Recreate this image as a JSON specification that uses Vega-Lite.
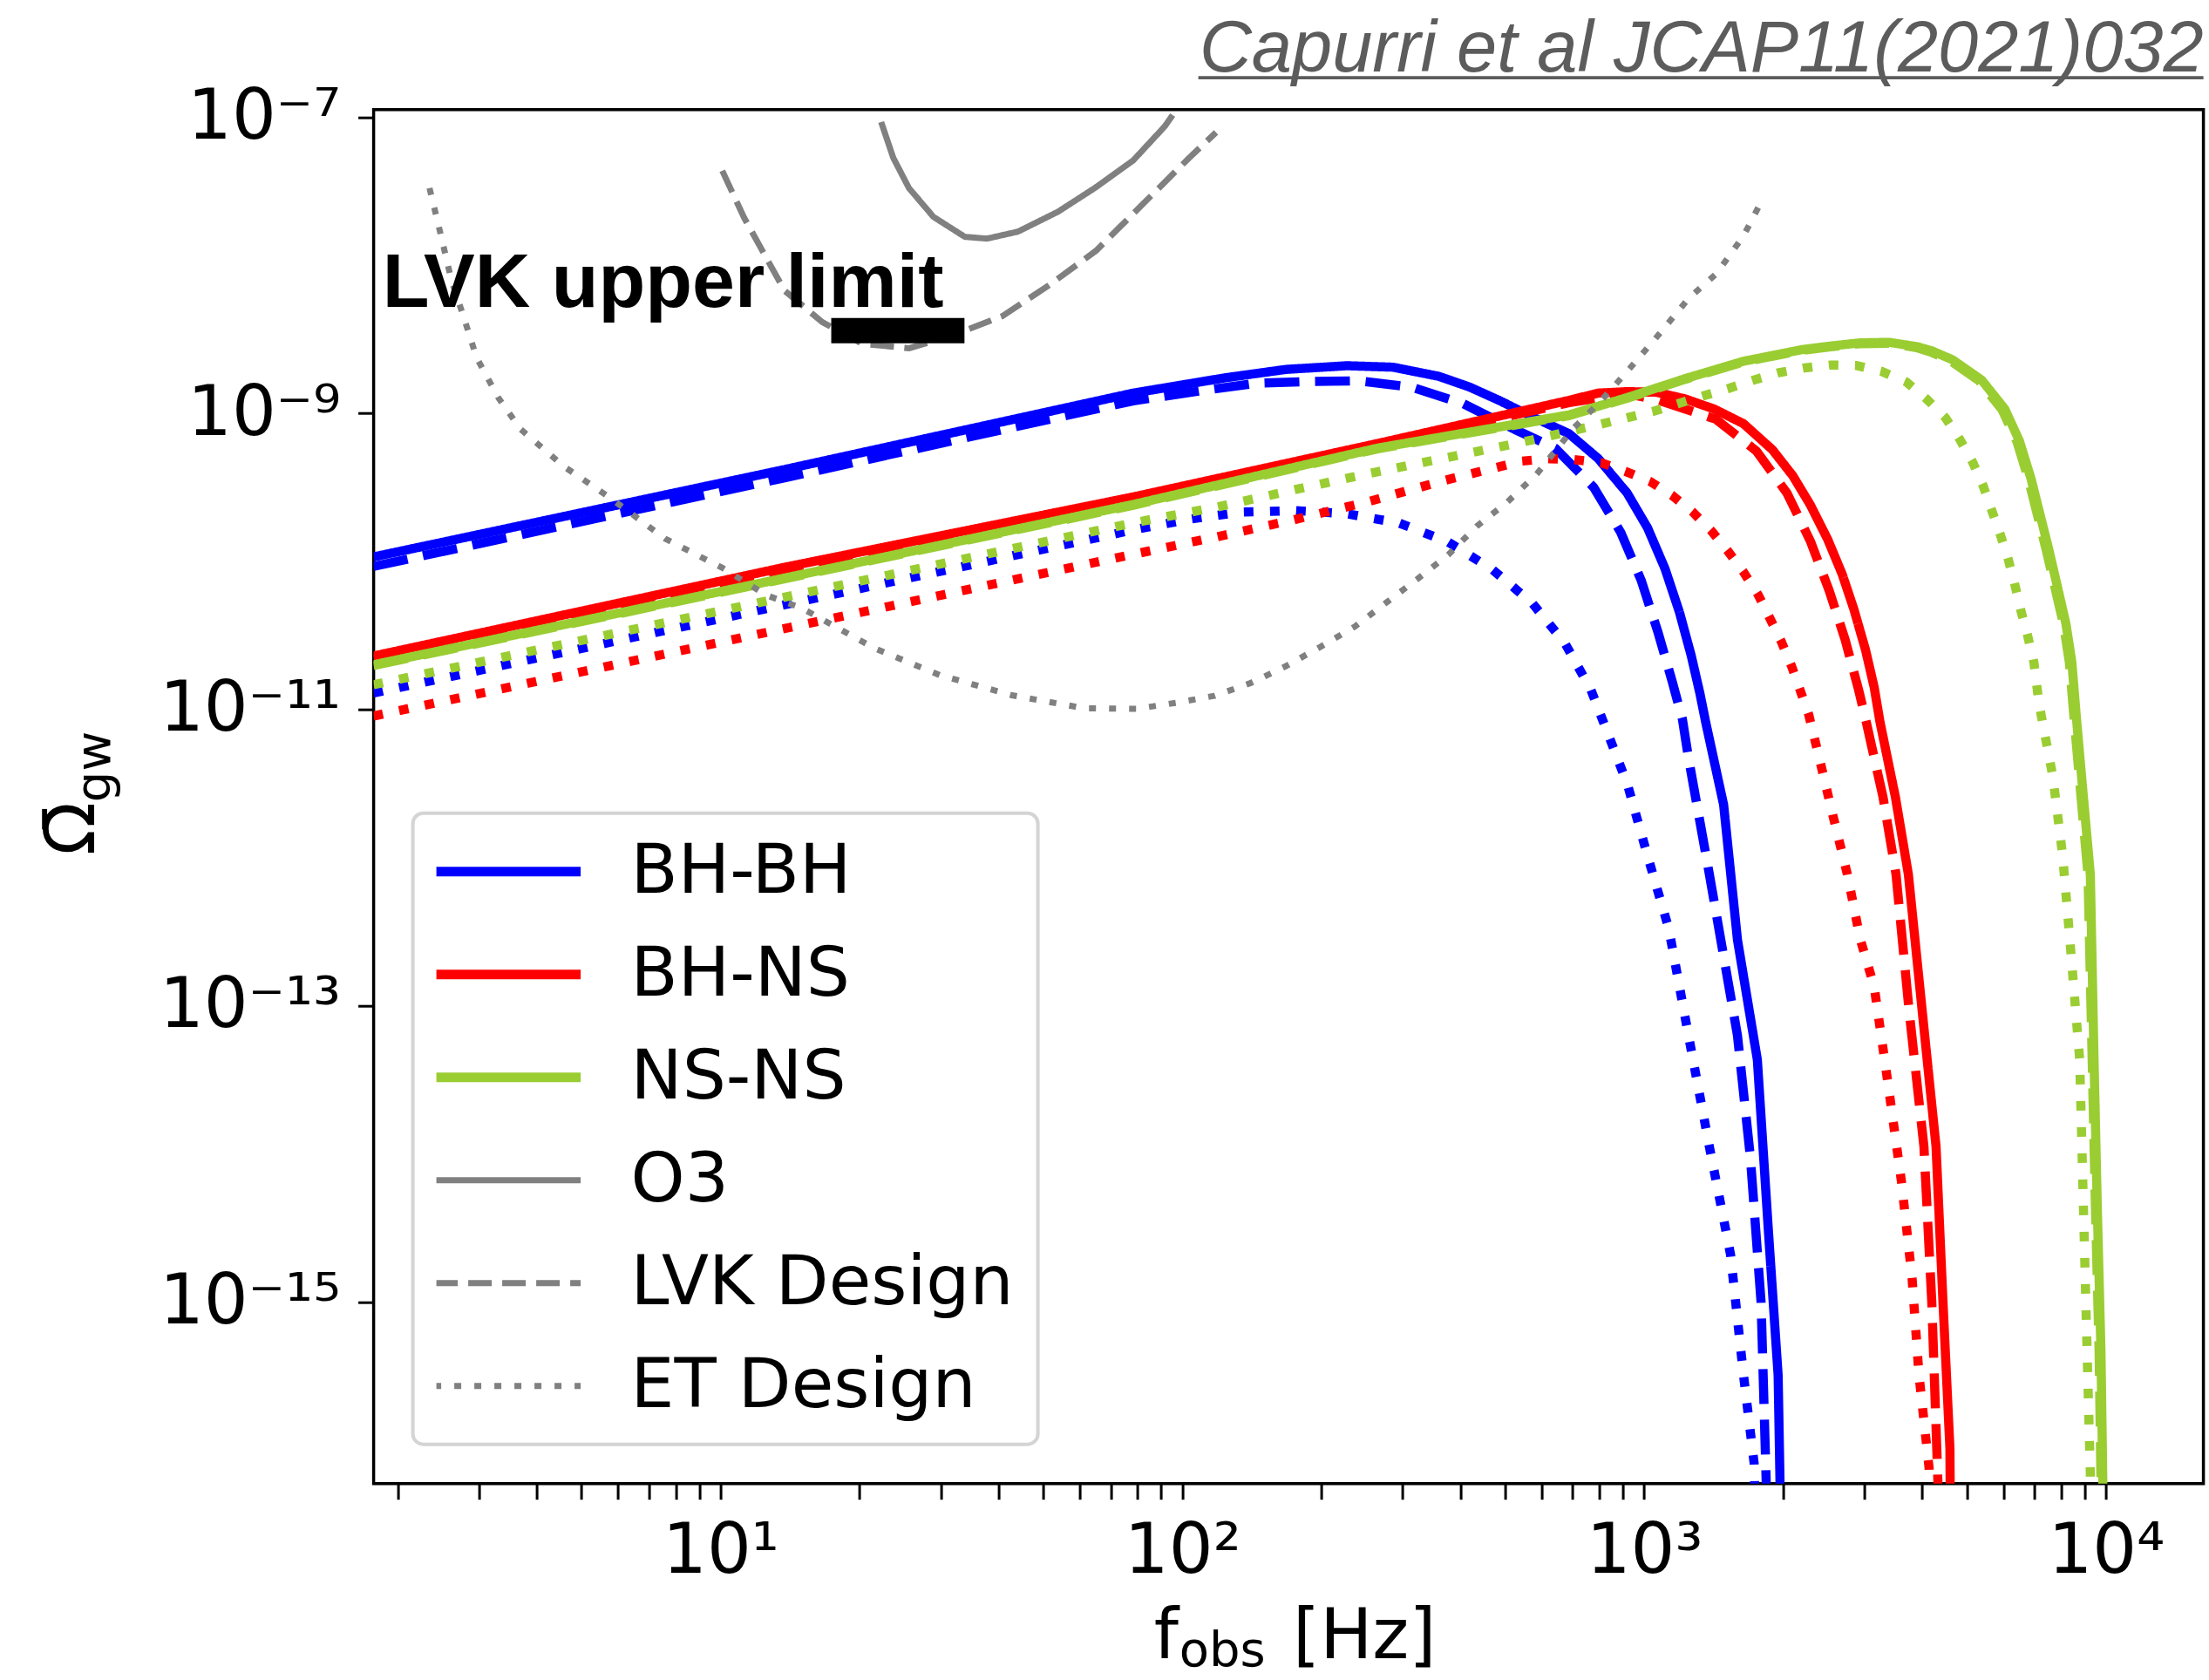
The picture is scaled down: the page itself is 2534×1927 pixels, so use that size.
{
  "$schema": "https://vega.github.io/schema/vega-lite/v6.json",
  "width": 2099,
  "height": 1576,
  "autosize": {"type": "none"},
  "padding": {"left": 428.6, "top": 125.7, "right": 6.3, "bottom": 225.4},
  "background": "white",
  "config": {
    "view": {"stroke": "black", "strokeWidth": 3.5},
    "font": "DejaVu Sans",
    "legend": {"strokeWidth": 4}
  },
  "datasets": {
    "curves": [
      {"label":"BH-BH","style":"solid","f":1.773,"omega":1.074e-10},
      {"label":"BH-BH","style":"solid","f":13.76,"omega":4.178e-10},
      {"label":"BH-BH","style":"solid","f":78.25,"omega":1.371e-9},
      {"label":"BH-BH","style":"solid","f":123.6,"omega":1.738e-9},
      {"label":"BH-BH","style":"solid","f":167.7,"omega":1.982e-9},
      {"label":"BH-BH","style":"solid","f":227.5,"omega":2.099e-9},
      {"label":"BH-BH","style":"solid","f":285.9,"omega":2.051e-9},
      {"label":"BH-BH","style":"solid","f":359.5,"omega":1.778e-9},
      {"label":"BH-BH","style":"solid","f":418.6,"omega":1.507e-9},
      {"label":"BH-BH","style":"solid","f":487.5,"omega":1.216e-9},
      {"label":"BH-BH","style":"solid","f":567.9,"omega":9.594e-10},
      {"label":"BH-BH","style":"solid","f":687.5,"omega":7.295e-10},
      {"label":"BH-BH","style":"solid","f":794.7,"omega":4.966e-10},
      {"label":"BH-BH","style":"solid","f":918.8,"omega":2.897e-10},
      {"label":"BH-BH","style":"solid","f":1017,"omega":1.687e-10},
      {"label":"BH-BH","style":"solid","f":1109,"omega":8.974e-11},
      {"label":"BH-BH","style":"solid","f":1192,"omega":4.560e-11},
      {"label":"BH-BH","style":"solid","f":1264,"omega":2.323e-11},
      {"label":"BH-BH","style":"solid","f":1320,"omega":1.291e-11},
      {"label":"BH-BH","style":"solid","f":1359,"omega":8.222e-12},
      {"label":"BH-BH","style":"solid","f":1486,"omega":2.280e-12},
      {"label":"BH-BH","style":"solid","f":1592,"omega":2.799e-13},
      {"label":"BH-BH","style":"solid","f":1758,"omega":4.335e-14},
      {"label":"BH-BH","style":"solid","f":1854,"omega":3.319e-15},
      {"label":"BH-BH","style":"solid","f":1950,"omega":3.206e-16},
      {"label":"BH-BH","style":"solid","f":1968,"omega":6.237e-17},
      {"label":"BH-BH","style":"solid","f":1972,"omega":1e-17},

      {"label":"BH-BH","style":"dashed","f":1.773,"omega":9.268e-11},
      {"label":"BH-BH","style":"dashed","f":13.76,"omega":3.673e-10},
      {"label":"BH-BH","style":"dashed","f":78.25,"omega":1.216e-9},
      {"label":"BH-BH","style":"dashed","f":111.1,"omega":1.429e-9},
      {"label":"BH-BH","style":"dashed","f":144.0,"omega":1.596e-9},
      {"label":"BH-BH","style":"dashed","f":186.6,"omega":1.641e-9},
      {"label":"BH-BH","style":"dashed","f":241.8,"omega":1.656e-9},
      {"label":"BH-BH","style":"dashed","f":313.4,"omega":1.507e-9},
      {"label":"BH-BH","style":"dashed","f":406.2,"omega":1.161e-9},
      {"label":"BH-BH","style":"dashed","f":526.0,"omega":7.762e-10},
      {"label":"BH-BH","style":"dashed","f":641.4,"omega":5.834e-10},
      {"label":"BH-BH","style":"dashed","f":777.5,"omega":3.170e-10},
      {"label":"BH-BH","style":"dashed","f":889.6,"omega":1.574e-10},
      {"label":"BH-BH","style":"dashed","f":984.9,"omega":7.482e-11},
      {"label":"BH-BH","style":"dashed","f":1070,"omega":3.373e-11},
      {"label":"BH-BH","style":"dashed","f":1150,"omega":1.549e-11},
      {"label":"BH-BH","style":"dashed","f":1210,"omega":8.610e-12},
      {"label":"BH-BH","style":"dashed","f":1247,"omega":4.732e-12},
      {"label":"BH-BH","style":"dashed","f":1384,"omega":7.727e-13},
      {"label":"BH-BH","style":"dashed","f":1592,"omega":6.324e-14},
      {"label":"BH-BH","style":"dashed","f":1698,"omega":9.528e-15},
      {"label":"BH-BH","style":"dashed","f":1791,"omega":9.977e-16},
      {"label":"BH-BH","style":"dashed","f":1837,"omega":6.237e-17},
      {"label":"BH-BH","style":"dashed","f":1841,"omega":1e-17},

      {"label":"BH-BH","style":"dotted","f":1.773,"omega":1.294e-11},
      {"label":"BH-BH","style":"dotted","f":80.07,"omega":1.660e-10},
      {"label":"BH-BH","style":"dotted","f":103.8,"omega":1.932e-10},
      {"label":"BH-BH","style":"dotted","f":134.5,"omega":2.158e-10},
      {"label":"BH-BH","style":"dotted","f":175.5,"omega":2.208e-10},
      {"label":"BH-BH","style":"dotted","f":226.5,"omega":2.104e-10},
      {"label":"BH-BH","style":"dotted","f":293.9,"omega":1.824e-10},
      {"label":"BH-BH","style":"dotted","f":376.4,"omega":1.355e-10},
      {"label":"BH-BH","style":"dotted","f":469.0,"omega":8.831e-11},
      {"label":"BH-BH","style":"dotted","f":572.0,"omega":5.248e-11},
      {"label":"BH-BH","style":"dotted","f":673.8,"omega":2.805e-11},
      {"label":"BH-BH","style":"dotted","f":766.8,"omega":1.361e-11},
      {"label":"BH-BH","style":"dotted","f":841.6,"omega":6.442e-12},
      {"label":"BH-BH","style":"dotted","f":920.4,"omega":3.112e-12},
      {"label":"BH-BH","style":"dotted","f":1016,"omega":1.040e-12},
      {"label":"BH-BH","style":"dotted","f":1130,"omega":3.342e-13},
      {"label":"BH-BH","style":"dotted","f":1247,"omega":6.324e-14},
      {"label":"BH-BH","style":"dotted","f":1384,"omega":1.122e-14},
      {"label":"BH-BH","style":"dotted","f":1538,"omega":2.099e-15},
      {"label":"BH-BH","style":"dotted","f":1641,"omega":3.206e-16},
      {"label":"BH-BH","style":"dotted","f":1730,"omega":8.166e-17},
      {"label":"BH-BH","style":"dotted","f":1758,"omega":1e-17},

      {"label":"BH-NS","style":"solid","f":1.773,"omega":2.301e-11},
      {"label":"BH-NS","style":"solid","f":13.76,"omega":9.141e-11},
      {"label":"BH-NS","style":"solid","f":78.25,"omega":2.729e-10},
      {"label":"BH-NS","style":"solid","f":264.8,"omega":6.266e-10},
      {"label":"BH-NS","style":"solid","f":687.5,"omega":1.225e-9},
      {"label":"BH-NS","style":"solid","f":794.7,"omega":1.371e-9},
      {"label":"BH-NS","style":"solid","f":918.8,"omega":1.403e-9},
      {"label":"BH-NS","style":"solid","f":1062,"omega":1.390e-9},
      {"label":"BH-NS","style":"solid","f":1227,"omega":1.253e-9},
      {"label":"BH-NS","style":"solid","f":1419,"omega":1.069e-9},
      {"label":"BH-NS","style":"solid","f":1640,"omega":8.531e-10},
      {"label":"BH-NS","style":"solid","f":1895,"omega":5.689e-10},
      {"label":"BH-NS","style":"solid","f":2098,"omega":3.793e-10},
      {"label":"BH-NS","style":"solid","f":2289,"omega":2.415e-10},
      {"label":"BH-NS","style":"solid","f":2497,"omega":1.409e-10},
      {"label":"BH-NS","style":"solid","f":2684,"omega":8.204e-11},
      {"label":"BH-NS","style":"solid","f":2844,"omega":4.775e-11},
      {"label":"BH-NS","style":"solid","f":3014,"omega":2.541e-11},
      {"label":"BH-NS","style":"solid","f":3148,"omega":1.413e-11},
      {"label":"BH-NS","style":"solid","f":3241,"omega":8.222e-12},
      {"label":"BH-NS","style":"solid","f":3499,"omega":2.570e-12},
      {"label":"BH-NS","style":"solid","f":3733,"omega":7.727e-13},
      {"label":"BH-NS","style":"solid","f":3999,"omega":9.247e-14},
      {"label":"BH-NS","style":"solid","f":4285,"omega":1.122e-14},
      {"label":"BH-NS","style":"solid","f":4436,"omega":9.977e-16},
      {"label":"BH-NS","style":"solid","f":4592,"omega":1.028e-16},
      {"label":"BH-NS","style":"solid","f":4613,"omega":1e-17},

      {"label":"BH-NS","style":"dashed","f":1.773,"omega":2.213e-11},
      {"label":"BH-NS","style":"dashed","f":78.25,"omega":2.630e-10},
      {"label":"BH-NS","style":"dashed","f":264.8,"omega":6.053e-10},
      {"label":"BH-NS","style":"dashed","f":687.5,"omega":1.183e-9},
      {"label":"BH-NS","style":"dashed","f":918.8,"omega":1.358e-9},
      {"label":"BH-NS","style":"dashed","f":1077,"omega":1.225e-9},
      {"label":"BH-NS","style":"dashed","f":1429,"omega":9.141e-10},
      {"label":"BH-NS","style":"dashed","f":1750,"omega":5.572e-10},
      {"label":"BH-NS","style":"dashed","f":2038,"omega":2.897e-10},
      {"label":"BH-NS","style":"dashed","f":2289,"omega":1.377e-10},
      {"label":"BH-NS","style":"dashed","f":2514,"omega":6.397e-11},
      {"label":"BH-NS","style":"dashed","f":2723,"omega":2.972e-11},
      {"label":"BH-NS","style":"dashed","f":2914,"omega":1.352e-11},
      {"label":"BH-NS","style":"dashed","f":3027,"omega":8.222e-12},
      {"label":"BH-NS","style":"dashed","f":3289,"omega":2.570e-12},
      {"label":"BH-NS","style":"dashed","f":3510,"omega":7.727e-13},
      {"label":"BH-NS","style":"dashed","f":3747,"omega":9.247e-14},
      {"label":"BH-NS","style":"dashed","f":4034,"omega":1.122e-14},
      {"label":"BH-NS","style":"dashed","f":4195,"omega":9.977e-16},
      {"label":"BH-NS","style":"dashed","f":4324,"omega":6.237e-17},
      {"label":"BH-NS","style":"dashed","f":4335,"omega":1e-17},

      {"label":"BH-NS","style":"dotted","f":1.773,"omega":9.057e-12},
      {"label":"BH-NS","style":"dotted","f":80.07,"omega":1.135e-10},
      {"label":"BH-NS","style":"dotted","f":117.7,"omega":1.459e-10},
      {"label":"BH-NS","style":"dotted","f":173.4,"omega":1.905e-10},
      {"label":"BH-NS","style":"dotted","f":253.9,"omega":2.547e-10},
      {"label":"BH-NS","style":"dotted","f":371.7,"omega":3.548e-10},
      {"label":"BH-NS","style":"dotted","f":544.0,"omega":4.764e-10},
      {"label":"BH-NS","style":"dotted","f":619.4,"omega":4.943e-10},
      {"label":"BH-NS","style":"dotted","f":703.0,"omega":4.875e-10},
      {"label":"BH-NS","style":"dotted","f":806.8,"omega":4.645e-10},
      {"label":"BH-NS","style":"dotted","f":912.0,"omega":4.055e-10},
      {"label":"BH-NS","style":"dotted","f":1031,"omega":3.467e-10},
      {"label":"BH-NS","style":"dotted","f":1150,"omega":2.793e-10},
      {"label":"BH-NS","style":"dotted","f":1273,"omega":2.163e-10},
      {"label":"BH-NS","style":"dotted","f":1398,"omega":1.611e-10},
      {"label":"BH-NS","style":"dotted","f":1515,"omega":1.186e-10},
      {"label":"BH-NS","style":"dotted","f":1640,"omega":8.511e-11},
      {"label":"BH-NS","style":"dotted","f":1764,"omega":5.984e-11},
      {"label":"BH-NS","style":"dotted","f":1869,"omega":4.169e-11},
      {"label":"BH-NS","style":"dotted","f":1979,"omega":2.904e-11},
      {"label":"BH-NS","style":"dotted","f":2083,"omega":1.982e-11},
      {"label":"BH-NS","style":"dotted","f":2176,"omega":1.352e-11},
      {"label":"BH-NS","style":"dotted","f":2272,"omega":9.204e-12},
      {"label":"BH-NS","style":"dotted","f":2393,"omega":4.732e-12},
      {"label":"BH-NS","style":"dotted","f":2564,"omega":1.910e-12},
      {"label":"BH-NS","style":"dotted","f":2754,"omega":7.727e-13},
      {"label":"BH-NS","style":"dotted","f":2938,"omega":2.799e-13},
      {"label":"BH-NS","style":"dotted","f":3148,"omega":1.349e-13},
      {"label":"BH-NS","style":"dotted","f":3373,"omega":2.972e-14},
      {"label":"BH-NS","style":"dotted","f":3606,"omega":6.531e-15},
      {"label":"BH-NS","style":"dotted","f":3802,"omega":1.455e-15},
      {"label":"BH-NS","style":"dotted","f":3936,"omega":3.206e-16},
      {"label":"BH-NS","style":"dotted","f":4140,"omega":7.534e-17},
      {"label":"BH-NS","style":"dotted","f":4169,"omega":1e-17},

      {"label":"NS-NS","style":"solid","f":1.773,"omega":2.009e-11},
      {"label":"NS-NS","style":"solid","f":78.25,"omega":2.427e-10},
      {"label":"NS-NS","style":"solid","f":264.8,"omega":5.834e-10},
      {"label":"NS-NS","style":"solid","f":687.5,"omega":9.772e-10},
      {"label":"NS-NS","style":"solid","f":918.8,"omega":1.279e-9},
      {"label":"NS-NS","style":"solid","f":1227,"omega":1.718e-9},
      {"label":"NS-NS","style":"solid","f":1640,"omega":2.249e-9},
      {"label":"NS-NS","style":"solid","f":2191,"omega":2.692e-9},
      {"label":"NS-NS","style":"solid","f":2533,"omega":2.851e-9},
      {"label":"NS-NS","style":"solid","f":2927,"omega":2.992e-9},
      {"label":"NS-NS","style":"solid","f":3388,"omega":3.020e-9},
      {"label":"NS-NS","style":"solid","f":3911,"omega":2.818e-9},
      {"label":"NS-NS","style":"solid","f":4206,"omega":2.636e-9},
      {"label":"NS-NS","style":"solid","f":4654,"omega":2.301e-9},
      {"label":"NS-NS","style":"solid","f":5380,"omega":1.679e-9},
      {"label":"NS-NS","style":"solid","f":6039,"omega":1.069e-9},
      {"label":"NS-NS","style":"solid","f":6494,"omega":6.516e-10},
      {"label":"NS-NS","style":"solid","f":6880,"omega":3.631e-10},
      {"label":"NS-NS","style":"solid","f":7186,"omega":2.113e-10},
      {"label":"NS-NS","style":"solid","f":7506,"omega":1.230e-10},
      {"label":"NS-NS","style":"solid","f":7840,"omega":6.855e-11},
      {"label":"NS-NS","style":"solid","f":8186,"omega":3.811e-11},
      {"label":"NS-NS","style":"solid","f":8430,"omega":2.118e-11},
      {"label":"NS-NS","style":"solid","f":8630,"omega":8.690e-12},
      {"label":"NS-NS","style":"solid","f":8933,"omega":2.570e-12},
      {"label":"NS-NS","style":"solid","f":9247,"omega":7.727e-13},
      {"label":"NS-NS","style":"solid","f":9419,"omega":4.335e-14},
      {"label":"NS-NS","style":"solid","f":9572,"omega":4.477e-15},
      {"label":"NS-NS","style":"solid","f":9750,"omega":4.677e-16},
      {"label":"NS-NS","style":"solid","f":9840,"omega":6.237e-17},
      {"label":"NS-NS","style":"solid","f":9863,"omega":1e-17},

      {"label":"NS-NS","style":"dashed","f":1.773,"omega":1.986e-11},
      {"label":"NS-NS","style":"dashed","f":78.25,"omega":2.399e-10},
      {"label":"NS-NS","style":"dashed","f":264.8,"omega":5.768e-10},
      {"label":"NS-NS","style":"dashed","f":687.5,"omega":9.661e-10},
      {"label":"NS-NS","style":"dashed","f":918.8,"omega":1.265e-9},
      {"label":"NS-NS","style":"dashed","f":1227,"omega":1.698e-9},
      {"label":"NS-NS","style":"dashed","f":1640,"omega":2.223e-9},
      {"label":"NS-NS","style":"dashed","f":2191,"omega":2.661e-9},
      {"label":"NS-NS","style":"dashed","f":2533,"omega":2.818e-9},
      {"label":"NS-NS","style":"dashed","f":2927,"omega":2.958e-9},
      {"label":"NS-NS","style":"dashed","f":3388,"omega":2.979e-9},
      {"label":"NS-NS","style":"dashed","f":3890,"omega":2.780e-9},
      {"label":"NS-NS","style":"dashed","f":4169,"omega":2.600e-9},
      {"label":"NS-NS","style":"dashed","f":4603,"omega":2.265e-9},
      {"label":"NS-NS","style":"dashed","f":5309,"omega":1.660e-9},
      {"label":"NS-NS","style":"dashed","f":5957,"omega":1.059e-9},
      {"label":"NS-NS","style":"dashed","f":6412,"omega":6.457e-10},
      {"label":"NS-NS","style":"dashed","f":6792,"omega":3.589e-10},
      {"label":"NS-NS","style":"dashed","f":7096,"omega":2.089e-10},
      {"label":"NS-NS","style":"dashed","f":7413,"omega":1.216e-10},
      {"label":"NS-NS","style":"dashed","f":7745,"omega":6.761e-11},
      {"label":"NS-NS","style":"dashed","f":8091,"omega":3.758e-11},
      {"label":"NS-NS","style":"dashed","f":8329,"omega":2.089e-11},
      {"label":"NS-NS","style":"dashed","f":8531,"omega":8.610e-12},
      {"label":"NS-NS","style":"dashed","f":8831,"omega":2.541e-12},
      {"label":"NS-NS","style":"dashed","f":9141,"omega":7.674e-13},
      {"label":"NS-NS","style":"dashed","f":9333,"omega":4.315e-14},
      {"label":"NS-NS","style":"dashed","f":9484,"omega":4.467e-15},
      {"label":"NS-NS","style":"dashed","f":9661,"omega":4.677e-16},
      {"label":"NS-NS","style":"dashed","f":9750,"omega":6.237e-17},
      {"label":"NS-NS","style":"dashed","f":9772,"omega":1e-17},

      {"label":"NS-NS","style":"dotted","f":1.773,"omega":1.472e-11},
      {"label":"NS-NS","style":"dotted","f":80.07,"omega":1.849e-10},
      {"label":"NS-NS","style":"dotted","f":117.7,"omega":2.317e-10},
      {"label":"NS-NS","style":"dotted","f":173.4,"omega":3.034e-10},
      {"label":"NS-NS","style":"dotted","f":253.9,"omega":3.936e-10},
      {"label":"NS-NS","style":"dotted","f":371.7,"omega":5.012e-10},
      {"label":"NS-NS","style":"dotted","f":546.4,"omega":6.412e-10},
      {"label":"NS-NS","style":"dotted","f":800.0,"omega":8.414e-10},
      {"label":"NS-NS","style":"dotted","f":918.8,"omega":9.354e-10},
      {"label":"NS-NS","style":"dotted","f":1047,"omega":1.033e-9},
      {"label":"NS-NS","style":"dotted","f":1192,"omega":1.172e-9},
      {"label":"NS-NS","style":"dotted","f":1338,"omega":1.309e-9},
      {"label":"NS-NS","style":"dotted","f":1515,"omega":1.466e-9},
      {"label":"NS-NS","style":"dotted","f":1726,"omega":1.679e-9},
      {"label":"NS-NS","style":"dotted","f":1951,"omega":1.879e-9},
      {"label":"NS-NS","style":"dotted","f":2223,"omega":2.028e-9},
      {"label":"NS-NS","style":"dotted","f":2533,"omega":2.123e-9},
      {"label":"NS-NS","style":"dotted","f":2885,"omega":2.104e-9},
      {"label":"NS-NS","style":"dotted","f":3263,"omega":1.923e-9},
      {"label":"NS-NS","style":"dotted","f":3692,"omega":1.633e-9},
      {"label":"NS-NS","style":"dotted","f":4085,"omega":1.253e-9},
      {"label":"NS-NS","style":"dotted","f":4490,"omega":9.354e-10},
      {"label":"NS-NS","style":"dotted","f":4825,"omega":6.668e-10},
      {"label":"NS-NS","style":"dotted","f":5150,"omega":4.645e-10},
      {"label":"NS-NS","style":"dotted","f":5419,"omega":3.243e-10},
      {"label":"NS-NS","style":"dotted","f":5659,"omega":2.208e-10},
      {"label":"NS-NS","style":"dotted","f":5909,"omega":1.507e-10},
      {"label":"NS-NS","style":"dotted","f":6145,"omega":1.028e-10},
      {"label":"NS-NS","style":"dotted","f":6356,"omega":6.855e-11},
      {"label":"NS-NS","style":"dotted","f":6540,"omega":4.667e-11},
      {"label":"NS-NS","style":"dotted","f":6761,"omega":3.184e-11},
      {"label":"NS-NS","style":"dotted","f":6982,"omega":2.070e-11},
      {"label":"NS-NS","style":"dotted","f":7161,"omega":1.094e-11},
      {"label":"NS-NS","style":"dotted","f":7674,"omega":3.508e-12},
      {"label":"NS-NS","style":"dotted","f":8054,"omega":1.040e-12},
      {"label":"NS-NS","style":"dotted","f":8337,"omega":2.958e-13},
      {"label":"NS-NS","style":"dotted","f":8770,"omega":4.335e-14},
      {"label":"NS-NS","style":"dotted","f":8933,"omega":4.477e-15},
      {"label":"NS-NS","style":"dotted","f":9099,"omega":4.677e-16},
      {"label":"NS-NS","style":"dotted","f":9247,"omega":7.047e-17},
      {"label":"NS-NS","style":"dotted","f":9268,"omega":1e-17}
    ],
    "detectors": [
      {"label":"O3","style":"solid","f":22.28,"omega":9.268e-8},
      {"label":"O3","style":"solid","f":23.66,"omega":5.321e-8},
      {"label":"O3","style":"solid","f":25.59,"omega":3.319e-8},
      {"label":"O3","style":"solid","f":28.91,"omega":2.123e-8},
      {"label":"O3","style":"solid","f":33.81,"omega":1.556e-8},
      {"label":"O3","style":"solid","f":37.76,"omega":1.514e-8},
      {"label":"O3","style":"solid","f":44.06,"omega":1.687e-8},
      {"label":"O3","style":"solid","f":53.83,"omega":2.301e-8},
      {"label":"O3","style":"solid","f":65.01,"omega":3.365e-8},
      {"label":"O3","style":"solid","f":78.34,"omega":5.117e-8},
      {"label":"O3","style":"solid","f":91.62,"omega":8.670e-8},
      {"label":"O3","style":"solid","f":95.28,"omega":1.033e-7},

      {"label":"LVK Design","style":"gdashed","f":10.09,"omega":4.345e-8},
      {"label":"LVK Design","style":"gdashed","f":11.25,"omega":2.094e-8},
      {"label":"LVK Design","style":"gdashed","f":12.56,"omega":1.125e-8},
      {"label":"LVK Design","style":"gdashed","f":13.77,"omega":6.730e-9},
      {"label":"LVK Design","style":"gdashed","f":16.60,"omega":4.140e-9},
      {"label":"LVK Design","style":"gdashed","f":20.28,"omega":2.951e-9},
      {"label":"LVK Design","style":"gdashed","f":25.64,"omega":2.754e-9},
      {"label":"LVK Design","style":"gdashed","f":32.28,"omega":3.420e-9},
      {"label":"LVK Design","style":"gdashed","f":40.83,"omega":4.550e-9},
      {"label":"LVK Design","style":"gdashed","f":51.64,"omega":7.396e-9},
      {"label":"LVK Design","style":"gdashed","f":65.01,"omega":1.253e-8},
      {"label":"LVK Design","style":"gdashed","f":82.22,"omega":2.600e-8},
      {"label":"LVK Design","style":"gdashed","f":103.5,"omega":5.321e-8},
      {"label":"LVK Design","style":"gdashed","f":118.3,"omega":7.889e-8},

      {"label":"ET Design","style":"gdotted","f":2.344,"omega":3.319e-8},
      {"label":"ET Design","style":"gdotted","f":2.483,"omega":1.578e-8},
      {"label":"ET Design","style":"gdotted","f":2.612,"omega":8.017e-9},
      {"label":"ET Design","style":"gdotted","f":2.767,"omega":4.667e-9},
      {"label":"ET Design","style":"gdotted","f":2.965,"omega":2.377e-9},
      {"label":"ET Design","style":"gdotted","f":3.304,"omega":1.276e-9},
      {"label":"ET Design","style":"gdotted","f":3.690,"omega":7.834e-10},
      {"label":"ET Design","style":"gdotted","f":4.581,"omega":4.385e-10},
      {"label":"ET Design","style":"gdotted","f":5.768,"omega":2.692e-10},
      {"label":"ET Design","style":"gdotted","f":7.586,"omega":1.426e-10},
      {"label":"ET Design","style":"gdotted","f":10.12,"omega":9.016e-11},
      {"label":"ET Design","style":"gdotted","f":12.56,"omega":5.929e-11},
      {"label":"ET Design","style":"gdotted","f":15.00,"omega":4.842e-11},
      {"label":"ET Design","style":"gdotted","f":17.42,"omega":3.741e-11},
      {"label":"ET Design","style":"gdotted","f":21.53,"omega":2.600e-11},
      {"label":"ET Design","style":"gdotted","f":29.85,"omega":1.710e-11},
      {"label":"ET Design","style":"gdotted","f":42.76,"omega":1.250e-11},
      {"label":"ET Design","style":"gdotted","f":61.38,"omega":1.021e-11},
      {"label":"ET Design","style":"gdotted","f":79.43,"omega":1.012e-11},
      {"label":"ET Design","style":"gdotted","f":96.87,"omega":1.112e-11},
      {"label":"ET Design","style":"gdotted","f":117.3,"omega":1.239e-11},
      {"label":"ET Design","style":"gdotted","f":140.7,"omega":1.514e-11},
      {"label":"ET Design","style":"gdotted","f":167.7,"omega":1.968e-11},
      {"label":"ET Design","style":"gdotted","f":199.8,"omega":2.673e-11},
      {"label":"ET Design","style":"gdotted","f":236.3,"omega":3.639e-11},
      {"label":"ET Design","style":"gdotted","f":277.3,"omega":5.321e-11},
      {"label":"ET Design","style":"gdotted","f":325.6,"omega":7.780e-11},
      {"label":"ET Design","style":"gdotted","f":376.3,"omega":1.109e-10},
      {"label":"ET Design","style":"gdotted","f":434.9,"omega":1.742e-10},
      {"label":"ET Design","style":"gdotted","f":502.8,"omega":2.483e-10},
      {"label":"ET Design","style":"gdotted","f":585.4,"omega":3.899e-10},
      {"label":"ET Design","style":"gdotted","f":703.0,"omega":7.943e-10},
      {"label":"ET Design","style":"gdotted","f":806.4,"omega":1.216e-9},
      {"label":"ET Design","style":"gdotted","f":918.8,"omega":1.923e-9},
      {"label":"ET Design","style":"gdotted","f":1047,"omega":3.083e-9},
      {"label":"ET Design","style":"gdotted","f":1247,"omega":5.957e-9},
      {"label":"ET Design","style":"gdotted","f":1435,"omega":8.810e-9},
      {"label":"ET Design","style":"gdotted","f":1641,"omega":1.578e-8},
      {"label":"ET Design","style":"gdotted","f":1791,"omega":2.673e-8}
    ]
  },
  "encoding": {
    "x": {
      "field": "f", "type": "quantitative",
      "scale": {"type": "log", "domain": [1.774, 16250], "nice": false},
      "axis": {
        "title": null,
        "values": [2,3,4,5,6,7,8,9,10,20,30,40,50,60,70,80,90,100,200,300,400,500,600,700,800,900,1000,2000,3000,4000,5000,6000,7000,8000,9000,10000],
        "labelExpr": "datum.value === 10 ? '10¹' : datum.value === 100 ? '10²' : datum.value === 1000 ? '10³' : datum.value === 10000 ? '10⁴' : ''",
        "labelFont": "DejaVu Sans", "labelFontSize": 80, "labelColor": "black",
        "labelBaseline": "alphabetic", "labelPadding": 84, "labelLimit": 1000,
        "labelOverlap": false, "labelFlush": false, "labelBound": false,
        "tickSize": 18, "tickWidth": 3, "tickColor": "black",
        "domain": false, "grid": false,
        "encode": {
          "ticks": {"update": {"y2": {"signal": "(datum.value === 10 || datum.value === 100 || datum.value === 1000 || datum.value === 10000) ? 18 : 11"}}}
        }
      }
    },
    "y": {
      "field": "omega", "type": "quantitative",
      "scale": {"type": "log", "domain": [5.957e-17, 1.125e-7], "nice": false},
      "axis": {
        "title": null,
        "values": [1e-15, 1e-13, 1e-11, 1e-9, 1e-7],
        "labelExpr": "datum.value < 1e-14 ? '10⁻¹⁵' : datum.value < 1e-12 ? '10⁻¹³' : datum.value < 1e-10 ? '10⁻¹¹' : datum.value < 1e-8 ? '10⁻⁹' : '10⁻⁷'",
        "labelFont": "DejaVu Sans", "labelFontSize": 80, "labelColor": "black",
        "labelPadding": 20, "labelLimit": 1000, "labelOverlap": false, "labelFlush": false, "labelBound": false,
        "tickSize": 18, "tickWidth": 3, "tickColor": "black",
        "domain": false, "grid": false
      }
    }
  },
  "layer": [
    {
      "data": {"name": "curves"},
      "mark": {"type": "line", "strokeWidth": 10.5, "clip": true, "strokeJoin": "round", "strokeCap": "butt"},
      "encoding": {
        "color": {
          "field": "label", "type": "nominal",
          "scale": {"domain": ["BH-BH","BH-NS","NS-NS","O3","LVK Design","ET Design"], "range": ["#0000ff","#ff0000","#9acd32","#808080","#808080","#808080"]},
          "legend": {
            "title": null,
            "orient": "bottom-left",
            "offset": 45,
            "padding": 27,
            "symbolType": "M-1,0H3",
            "symbolSize": 7056,
            "symbolStrokeWidth": 11,
            "labelFont": "DejaVu Sans",
            "labelFontSize": 79,
            "labelColor": "black",
            "labelOffset": 144,
            "labelLimit": 1000,
            "rowPadding": 38,
            "clipHeight": 80,
            "fillColor": "white",
            "strokeColor": "#d4d4d4",
            "cornerRadius": 12,
            "encode": {
              "symbols": {"update": {
                "strokeDash": {"signal": "datum.value === 'LVK Design' ? [27, 12] : datum.value === 'ET Design' ? [8, 15] : [1, 0]"},
                "strokeWidth": {"signal": "(datum.value === 'O3' || datum.value === 'LVK Design' || datum.value === 'ET Design') ? 7 : 11"}
              }},
              "legend": {"update": {"strokeWidth": {"value": 4}}}
            }
          }
        },
        "strokeDash": {
          "field": "style", "type": "nominal",
          "scale": {"domain": ["solid","dashed","dotted","gdashed","gdotted"], "range": [[1,0],[40,18],[11,19],[27,12],[8,15]]},
          "legend": null
        }
      }
    },
    {
      "data": {"name": "detectors"},
      "mark": {"type": "line", "strokeWidth": 7, "clip": true, "strokeJoin": "round", "strokeCap": "butt"},
      "encoding": {
        "color": {
          "field": "label", "type": "nominal",
          "scale": {"domain": ["BH-BH","BH-NS","NS-NS","O3","LVK Design","ET Design"], "range": ["#0000ff","#ff0000","#9acd32","#808080","#808080","#808080"]},
          "legend": null
        },
        "strokeDash": {
          "field": "style", "type": "nominal",
          "scale": {"domain": ["solid","dashed","dotted","gdashed","gdotted"], "range": [[1,0],[40,18],[11,19],[27,12],[8,15]]},
          "legend": null
        }
      }
    },
    {
      "data": {"values": [{"f": 17.37, "f_end": 33.75, "omega": 3.617e-9}]},
      "mark": {"type": "rule", "strokeWidth": 29, "color": "black", "strokeCap": "butt"},
      "encoding": {"x2": {"field": "f_end"}}
    },
    {
      "data": {"values": [{"f": 1.855, "omega": 5.27e-9, "text": "LVK upper limit"}]},
      "mark": {"type": "text", "align": "left", "baseline": "alphabetic", "font": "Liberation Sans", "fontSize": 88, "fontWeight": "bold", "color": "black"},
      "encoding": {"text": {"field": "text"}}
    },
    {
      "data": {"values": [{"f": 16250, "omega": 2.031e-7, "text": "Capurri et al JCAP11(2021)032"}]},
      "mark": {"type": "text", "align": "right", "baseline": "alphabetic", "font": "Liberation Sans", "fontSize": 83, "fontStyle": "italic", "fontWeight": 300, "color": "#5c5c5c", "clip": false},
      "encoding": {"text": {"field": "text"}}
    },
    {
      "data": {"values": [{"f": 108.3, "f_end": 16250, "omega": 1.848e-7}]},
      "mark": {"type": "rule", "strokeWidth": 3.6, "color": "#5c5c5c", "clip": false},
      "encoding": {"x2": {"field": "f_end"}}
    },
    {
      "data": {"values": [{"f": 86.85, "omega": 3.956e-18, "text": "f"}, {"f": 173.4, "omega": 3.956e-18, "text": "[Hz]"}]},
      "mark": {"type": "text", "align": "left", "baseline": "alphabetic", "font": "DejaVu Sans", "fontSize": 80, "color": "black"},
      "encoding": {"text": {"field": "text"}}
    },
    {
      "data": {"values": [{"f": 98.5, "omega": 3.502e-18, "text": "obs"}]},
      "mark": {"type": "text", "align": "left", "baseline": "alphabetic", "font": "DejaVu Sans", "fontSize": 56, "color": "black"},
      "encoding": {"text": {"field": "text"}}
    },
    {
      "data": {"values": [{"f": 0.4401, "omega": 1.040e-12, "text": "Ω̄"}]},
      "mark": {"type": "text", "align": "left", "baseline": "alphabetic", "angle": 270, "font": "DejaVu Sans", "fontSize": 80, "color": "black"},
      "encoding": {"text": {"field": "text"}}
    },
    {
      "data": {"values": [{"f": 0.4753, "omega": 2.372e-12, "text": "gw"}]},
      "mark": {"type": "text", "align": "left", "baseline": "alphabetic", "angle": 270, "font": "DejaVu Sans", "fontSize": 56, "color": "black"},
      "encoding": {"text": {"field": "text"}}
    }
  ]
}
